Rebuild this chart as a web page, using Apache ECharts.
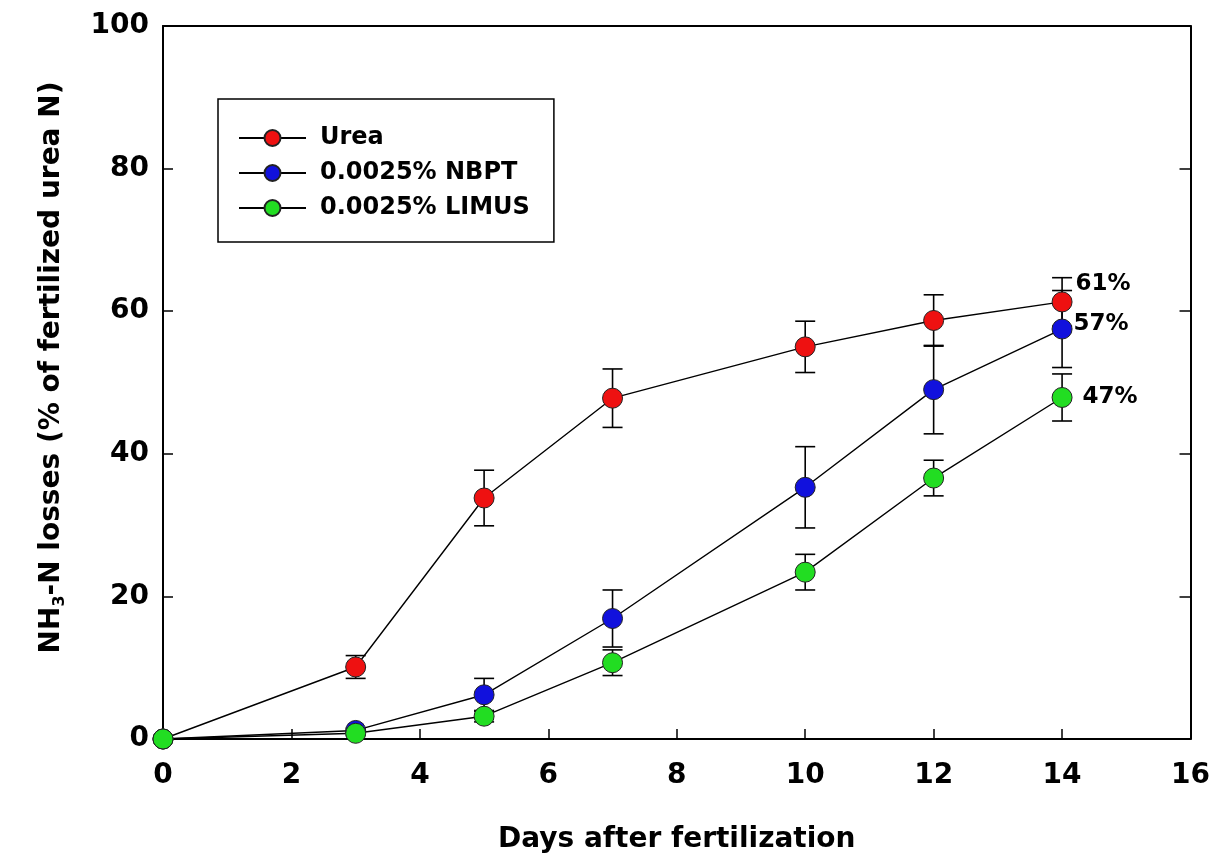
<!DOCTYPE html>
<html><head><meta charset="utf-8">
<script src="https://cdn.jsdelivr.net/npm/echarts@6/dist/echarts.min.js"></script>
<style>html,body{margin:0;padding:0;background:#fff}#c{width:1213px;height:859px}</style>
</head><body><div id="c"></div>
<script>
// ---- data ----
const days = [0, 3, 5, 7, 10, 12, 14];
const seriesNames = ['Urea', '0.0025% NBPT', '0.0025% LIMUS'];
const ureaVals  = [0, 10.1, 33.8, 47.8, 55.0, 58.7, 61.3];
const ureaErr   = [0, 1.6, 3.9, 4.1, 3.6, 3.6, 3.4];
const nbptVals  = [0, 1.2, 6.2, 16.9, 35.3, 49.0, 57.5];
const nbptErr   = [0, 0.3, 2.3, 4.0, 5.7, 6.2, 5.4];
const limusVals = [0, 0.8, 3.2, 10.7, 23.4, 36.6, 47.9];
const limusErr  = [0, 0.3, 0.8, 1.8, 2.5, 2.5, 3.3];
const endLabels = ['61%', '57%', '47%'];
const xTickLabels = ['0', '2', '4', '6', '8', '10', '12', '14', '16'];
const yTickLabels = ['0', '20', '40', '60', '80', '100'];
const xTitle = 'Days after fertilization';

// ---- style ----
const FONT = 'DejaVu Sans';
const colors = ['#ee1111', '#1111dd', '#22dd22'];
const labelOffsets = [[-2, -18], [-4, -5], [5, 0]];

const allVals = [ureaVals, nbptVals, limusVals];
const allErr = [ureaErr, nbptErr, limusErr];

const series = [];
allVals.forEach((vals, k) => {
  const errs = allErr[k];
  series.push({
    type: 'custom',
    name: seriesNames[k] + ' err',
    z: 1,
    silent: true,
    data: days.map((d, i) => [d, vals[i] - errs[i], vals[i] + errs[i]]).filter((r, i) => errs[i] > 0),
    renderItem: function (params, api) {
      const x = api.value(0);
      const lo = api.coord([x, api.value(1)]);
      const hi = api.coord([x, api.value(2)]);
      const hw = 10;
      const st = { stroke: '#000', lineWidth: 1.6 };
      return {
        type: 'group',
        children: [
          { type: 'line', shape: { x1: lo[0], y1: lo[1], x2: hi[0], y2: hi[1] }, style: st },
          { type: 'line', shape: { x1: lo[0] - hw, y1: lo[1], x2: lo[0] + hw, y2: lo[1] }, style: st },
          { type: 'line', shape: { x1: hi[0] - hw, y1: hi[1], x2: hi[0] + hw, y2: hi[1] }, style: st }
        ]
      };
    }
  });
});
allVals.forEach((vals, k) => {
  const last = vals.length - 1;
  series.push({
    type: 'line',
    name: seriesNames[k],
    z: 2,
    symbol: 'circle',
    symbolSize: 20,
    lineStyle: { color: '#000', width: 1.4 },
    itemStyle: { color: colors[k], borderColor: '#222', borderWidth: 1 },
    emphasis: { disabled: true },
    data: days.map((d, i) => i === last ? {
      value: [d, vals[i]],
      label: {
        show: true, position: 'right', offset: labelOffsets[k],
        formatter: endLabels[k],
        fontFamily: FONT, fontWeight: 'bold', fontSize: 23, color: '#000'
      }
    } : [d, vals[i]])
  });
});

const chart = echarts.init(document.getElementById('c'), null, { renderer: 'canvas' });
chart.setOption({
  animation: false,
  backgroundColor: '#fff',
  grid: { left: 163, right: 21, top: 26, bottom: 118, containLabel: false },
  legend: {
    left: 218, top: 99,
    orient: 'vertical',
    data: seriesNames,
    itemWidth: 67, itemHeight: 20, itemGap: 11,
    padding: [27, 24, 22, 20],
    borderColor: '#000', borderWidth: 1.5,
    textStyle: { fontFamily: FONT, fontWeight: 'bold', fontSize: 24, color: '#000', padding: [0, 0, 0, 9] }
  },
  xAxis: [{
    type: 'value', min: 0, max: 16, interval: 2,
    name: xTitle, nameLocation: 'middle', nameGap: 87,
    nameTextStyle: { fontFamily: FONT, fontWeight: 'bold', fontSize: 28, color: '#000' },
    axisLine: { show: true, lineStyle: { color: '#000', width: 2 } },
    axisTick: { show: true, inside: true, length: 10, lineStyle: { color: '#000', width: 1.5 } },
    axisLabel: {
      margin: 23, fontFamily: FONT, fontWeight: 'bold', fontSize: 28, color: '#000',
      formatter: v => xTickLabels[Math.round(v / 2)]
    },
    splitLine: { show: false }
  }, {
    type: 'value', min: 0, max: 16, interval: 2, position: 'top',
    axisLine: { show: true, onZero: false, lineStyle: { color: '#000', width: 2 } },
    axisTick: { show: false }, axisLabel: { show: false }, splitLine: { show: false }
  }],
  yAxis: [{
    type: 'value', min: 0, max: 100, interval: 20,
    name: '{a|NH}{s|3}{a|-N losses (% of fertilized urea N)}',
    nameLocation: 'middle', nameRotate: 90, nameGap: 95,
    nameTextStyle: {
      padding: [0, 0, 0, 30],
      rich: {
        a: { fontFamily: FONT, fontWeight: 'bold', fontSize: 28, color: '#000', lineHeight: 32 },
        s: { fontFamily: FONT, fontWeight: 'bold', fontSize: 16, color: '#000', verticalAlign: 'bottom', lineHeight: 32 }
      }
    },
    axisLine: { show: true, lineStyle: { color: '#000', width: 2 } },
    axisTick: { show: true, inside: true, length: 10, lineStyle: { color: '#000', width: 1.5 } },
    axisLabel: {
      margin: 14, fontFamily: FONT, fontWeight: 'bold', fontSize: 28, color: '#000',
      formatter: v => yTickLabels[Math.round(v / 20)]
    },
    splitLine: { show: false }
  }, {
    type: 'value', min: 0, max: 100, interval: 20, position: 'right',
    axisLine: { show: true, onZero: false, lineStyle: { color: '#000', width: 2 } },
    axisTick: { show: true, inside: true, length: 11, lineStyle: { color: '#000', width: 1.5 } },
    axisLabel: { show: false }, splitLine: { show: false }
  }],
  series: series
});
</script></body></html>
